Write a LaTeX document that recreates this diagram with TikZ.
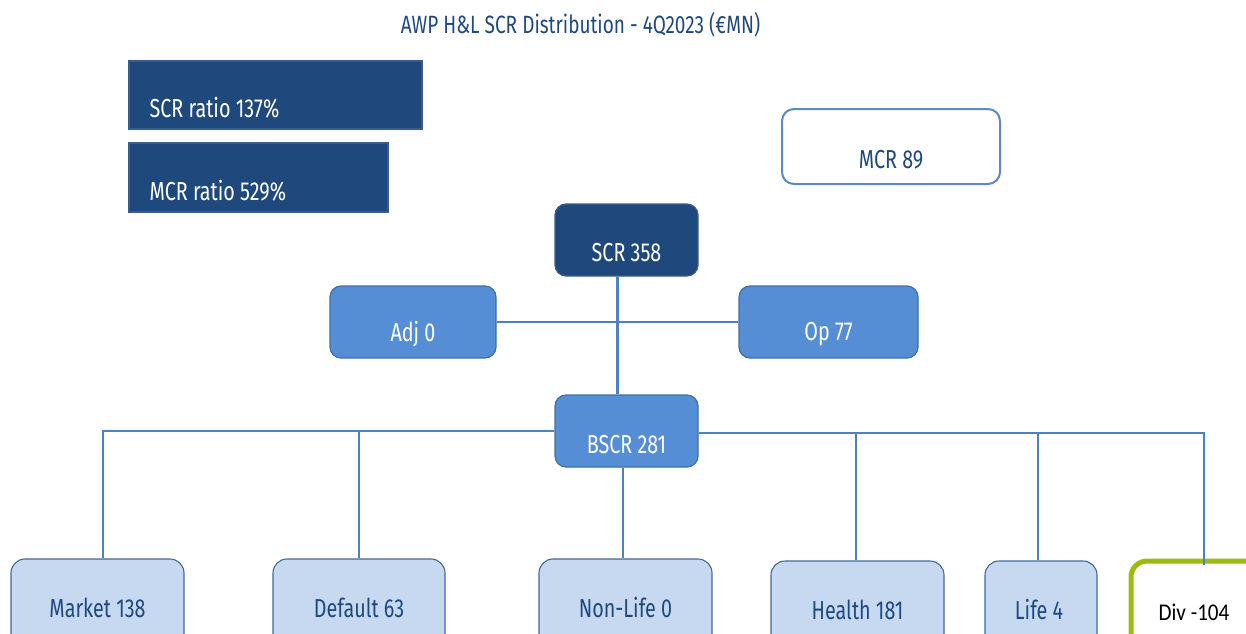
\documentclass[tikz,border=0pt]{standalone}
\usepackage{fontspec}
\setmainfont[FakeStretch=0.76]{Fira Sans}
\newfontfamily\calibrilike[FakeStretch=0.88]{Carlito}
\usetikzlibrary{calc}

\definecolor{navy}{HTML}{1F497D}
\definecolor{navyedge}{HTML}{385D8A}
\definecolor{midblue}{HTML}{558ED5}
\definecolor{midedge}{HTML}{3F6EA8}
\definecolor{paleblue}{HTML}{C6D9F1}
\definecolor{paleedge}{HTML}{41689A}
\definecolor{linkblue}{HTML}{4F81BD}
\definecolor{framegreen}{HTML}{9CBC0C}
\definecolor{mcredge}{HTML}{5B89C4}

\tikzset{
  x=1pt, y=-1pt,
  sqbox/.style={draw=navyedge, line width=1.2pt, fill=navy, inner sep=0pt},
  topbox/.style={draw=navyedge, line width=1.2pt, fill=navy, rounded corners=11pt, inner sep=0pt},
  midbox/.style={draw=midedge, line width=1.2pt, fill=midblue, rounded corners=11pt, inner sep=0pt},
  riskbox/.style={draw=paleedge, line width=1.1pt, fill=paleblue, rounded corners=14pt, inner sep=0pt},
  openbox/.style={draw=mcredge, line width=2pt, fill=white, rounded corners=12pt, inner sep=0pt},
  link/.style={draw=linkblue, line width=2.6pt},
  whitetxt/.style={text=white, font=\fontsize{26}{29}\selectfont, inner sep=0pt},
  darktxt/.style={text=navy, font=\fontsize{26}{29}\selectfont, inner sep=0pt},
}

\begin{document}
\begin{tikzpicture}
\useasboundingbox (0,0) rectangle (1246,633);
\clip (0,0) rectangle (1246,633);

% heading
\node[text=navy, font=\fontsize{25}{28}\selectfont, inner sep=0pt] (title) at (580.5,25) {AWP H\&L SCR Distribution - 4Q2023 (€MN)};

% ratio boxes
\node[sqbox, minimum width=293pt, minimum height=68pt] (scrratio) at (275.5,95) {};
\node[whitetxt, anchor=west] (scrratiotxt) at ($(scrratio.west)+(21,13)$) {SCR ratio 137\%};
\node[sqbox, minimum width=259pt, minimum height=69pt] (mcrratio) at (258.5,177.5) {};
\node[whitetxt, anchor=west] (mcrratiotxt) at ($(mcrratio.west)+(21,13)$) {MCR ratio 529\%};

% MCR
\node[openbox, minimum width=218pt, minimum height=75pt] (mcr) at (891,146.5) {};
\node[darktxt] (mcrtxt) at ($(mcr.center)+(0,13)$) {MCR 89};

% SCR level
\node[topbox, minimum width=143pt, minimum height=72pt] (scr) at (626.5,240) {};
\node[whitetxt] (scrtxt) at ($(scr.center)+(0,13)$) {SCR 358};

\node[midbox, minimum width=166pt, minimum height=72pt] (adj) at (413,322) {};
\node[whitetxt] (adjtxt) at ($(adj.center)+(0,12)$) {Adj 0};
\node[midbox, minimum width=179pt, minimum height=72pt] (op) at (828.5,322) {};
\node[whitetxt] (optxt) at ($(op.center)+(0,12)$) {Op 77};

\node[midbox, minimum width=143pt, minimum height=72pt] (bscr) at (626.5,431) {};
\node[whitetxt] (bscrtxt) at ($(bscr.center)+(0,14)$) {BSCR 281};

% risk modules (boxes run past the lower edge)
\node[riskbox, minimum width=173pt, minimum height=110pt] (market) at (97.5,614) {};
\node[darktxt] (markettxt) at (97.5,608) {Market 138};
\node[riskbox, minimum width=172pt, minimum height=110pt] (default) at (359,614) {};
\node[darktxt] (defaulttxt) at (359,608) {Default 63};
\node[riskbox, minimum width=173pt, minimum height=110pt] (nonlife) at (625.5,614) {};
\node[darktxt] (nonlifetxt) at (625.5,608) {Non-Life 0};
\node[riskbox, minimum width=173pt, minimum height=110pt] (health) at (857.5,616) {};
\node[darktxt] (healthtxt) at (857.5,610) {Health 181};
\node[riskbox, minimum width=112pt, minimum height=110pt] (life) at (1041,616) {};
\node[darktxt] (lifetxt) at (1039,610) {Life 4};

\node[draw=framegreen, line width=5pt, fill=white, rounded corners=16pt, inner sep=0pt,
      minimum width=150pt, minimum height=110pt] (div) at (1206,616) {};
\node[text=black, font=\calibrilike\fontsize{24}{27}\selectfont, inner sep=0pt] (divtxt) at (1194,612) {Div -104};

% connectors
\coordinate (divin) at (1204,565);
\draw[link] ([xshift=-9pt]scr.south) -- ([xshift=-9pt]bscr.north);
\draw[link] (adj.east) -- (op.west);
\draw[link] (bscr.west) -| ([xshift=5.5pt]market.north);
\draw[link] (default.north) -- (default.north |- bscr.west);
\draw[link] ([xshift=-3.5pt]bscr.south) -- ([xshift=-3.5pt]bscr.south |- nonlife.north);
\draw[link] ([yshift=-2pt]bscr.east) -| (divin);
\draw[link] ([xshift=-1.5pt]health.north) -- ([xshift=-1.5pt,yshift=-2pt]health.north |- bscr.east);
\draw[link] ([xshift=-3pt]life.north) -- ([xshift=-3pt,yshift=-2pt]life.north |- bscr.east);
\end{tikzpicture}
\end{document}
